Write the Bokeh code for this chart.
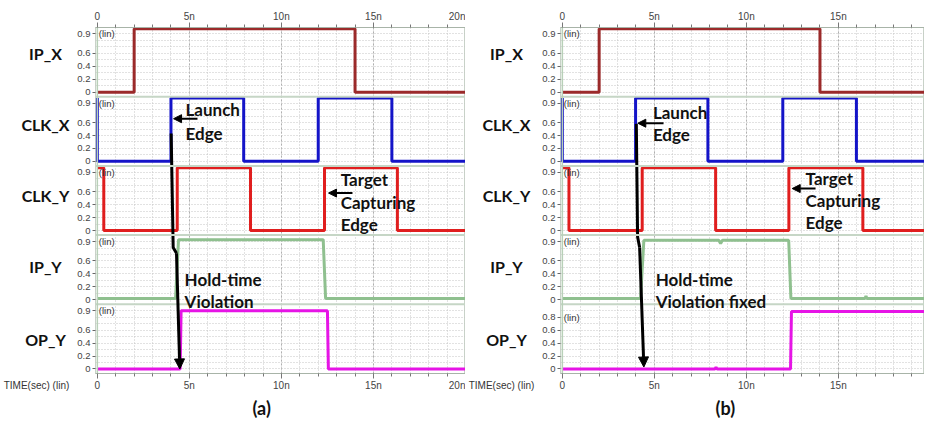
from bokeh.plotting import figure
from bokeh.models import FixedTicker, Label, Span, Arrow, NormalHead, LinearAxis, Range1d, Title
from bokeh.layouts import row
from bokeh.embed import file_html
from bokeh.resources import INLINE

# ---------------- data (time in ns, levels in V) ----------------
CHANNELS = ["IP_X", "CLK_X", "CLK_Y", "IP_Y", "OP_Y"]
COLORS = ["#9b2a2a", "#1414c8", "#e01e1e", "#8fc08f", "#e614e6"]

X_TICKS = [0, 5, 10, 15, 20]
X_TICK_LABELS = ["0", "5n", "10n", "15n", "20n"]
X_MINOR = list(range(0, 21))

Y_TICKS = [0, 0.2, 0.4, 0.6, 0.9]
Y_TICK_LABELS = ["0", "0.2", "0.4", "0.6", "0.9"]
Y_TICKS_ALT = [0, 0.2, 0.4, 0.6, 0.8]
Y_TICK_LABELS_ALT = ["0", "0.2", "0.4", "0.6", "0.8"]
Y_MINOR = [0.1, 0.3, 0.5, 0.7, 0.8]
Y_MINOR_ALT = [0.1, 0.3, 0.5, 0.7, 0.9]

# panel (a) waveforms
ipx_t_a = [0, 2.0, 2.0, 14.0, 14.0, 20]
ipx_v_a = [0, 0, 0.98, 0.98, 0, 0]
clkx_t_a = [0, 0, 4.0, 4.0, 7.95, 7.95, 12.0, 12.0, 16.0, 16.0, 20]
clkx_v_a = [0.98, 0, 0, 0.98, 0.98, 0, 0, 0.98, 0.98, 0, 0]
clky_t_a = [0, 0.35, 0.35, 4.34, 4.34, 8.32, 8.32, 12.34, 12.34, 16.3, 16.3, 20]
clky_v_a = [0.97, 0.97, 0, 0, 0.97, 0.97, 0, 0, 0.97, 0.97, 0, 0]
ipy_t_a = [0, 4.25, 4.41, 12.27, 12.4, 20]
ipy_v_a = [0.02, 0.02, 0.93, 0.93, 0.02, 0.02]
opy_t_a = [0, 4.5, 4.55, 12.5, 12.55, 20]
opy_v_a = [0, 0, 0.9, 0.9, 0, 0]

# panel (b) waveforms
ipx_t_b = [0, 2.0, 2.0, 14.0, 14.0, 20]
ipx_v_b = [0, 0, 0.98, 0.98, 0, 0]
clkx_t_b = [0, 0, 3.98, 3.98, 7.91, 7.91, 11.98, 11.98, 15.98, 15.98, 20]
clkx_v_b = [0.98, 0, 0, 0.98, 0.98, 0, 0, 0.98, 0.98, 0, 0]
clky_t_b = [0, 0.36, 0.36, 4.34, 4.34, 8.33, 8.33, 12.31, 12.31, 16.33, 16.33, 20]
clky_v_b = [0.97, 0.97, 0, 0, 0.97, 0.97, 0, 0, 0.97, 0.97, 0, 0]
ipy_t_b = [0, 4.25, 4.43, 8.5, 8.6, 8.7, 12.3, 12.42, 16.45, 16.5, 16.55, 20]
ipy_v_b = [0.02, 0.02, 0.92, 0.92, 0.87, 0.92, 0.92, 0.02, 0.02, 0.06, 0.02, 0.02]
opy_t_b = [0, 8.3, 8.35, 8.4, 12.4, 12.45, 20]
opy_v_b = [0, 0, 0.03, 0, 0, 0.89, 0.89]

# annotation positions: (channel, time ns, channel-relative level)
path_a = [(1, 4.01, 0.43), (3, 4.12, 0.81), (3, 4.30, 0.72), (4, 4.48, 0.0)]
path_b = [(1, 4.02, 0.58), (3, 4.09, 0.97), (3, 4.20, 0.81), (4, 4.43, 0.03)]
small_arrows_a = [((1, 5.44, 0.66), (1, 4.14, 0.66)), ((2, 13.86, 0.58), (2, 12.56, 0.58))]
small_arrows_b = [((1, 5.50, 0.59), (1, 4.10, 0.59)), ((2, 13.76, 0.65), (2, 12.49, 0.65))]
notes_a = [("Launch", 1, 4.79, 0.80), ("Edge", 1, 4.79, 0.43),
           ("Target", 2, 13.22, 0.79), ("Capturing", 2, 13.22, 0.43), ("Edge", 2, 13.22, 0.10),
           ("Hold-time", 3, 4.74, 0.31), ("Violation", 3, 4.74, -0.03)]
notes_b = [("Launch", 1, 4.92, 0.76), ("Edge", 1, 4.92, 0.42),
           ("Target", 2, 13.22, 0.81), ("Capturing", 2, 13.22, 0.46), ("Edge", 2, 13.22, 0.12),
           ("Hold-time", 3, 5.07, 0.31), ("Violation fixed", 3, 5.07, -0.03)]
NAME_LEVELS = [0.60, 0.57, 0.54, 0.51, 0.46]

# ---------------- layout constants ----------------
P = 1.07   # height of one channel strip (V units)
Z = 0.07   # position of 0 V inside a strip
FONT_BOLD = "Lato"
TICK_FONT = "Liberation Sans"
H = 420
TOP, FRAME_H = 27, 346
BOTTOM = H - TOP - FRAME_H
NAME_W = 72
YAX_W = 23


def ych(c, v):
    return (4 - c) * P + Z + v


def names_fig(name_x):
    q = figure(output_backend="svg", toolbar_location=None,
               frame_width=NAME_W, frame_height=FRAME_H,
               min_border_left=0, min_border_right=0,
               min_border_top=TOP, min_border_bottom=BOTTOM,
               x_range=Range1d(0, NAME_W), y_range=Range1d(0, 5 * P))
    q.yaxis.visible = False
    q.grid.visible = False
    q.outline_line_color = None
    xa = q.xaxis[0]
    xa.ticker = FixedTicker(ticks=[])
    xa.axis_line_color = None
    xa.major_tick_line_color = None
    xa.minor_tick_line_color = None
    xa.axis_label = "TIME(sec) (lin)"
    xa.axis_label_standoff = 6
    xa.axis_label_text_font = TICK_FONT
    xa.axis_label_text_font_style = "normal"
    xa.axis_label_text_font_size = "10px"
    xa.axis_label_text_color = "#333333"
    for c in range(5):
        q.add_layout(Label(x=name_x, y=ych(c, NAME_LEVELS[c]), text=CHANNELS[c],
                           text_font=FONT_BOLD, text_font_style="bold", text_font_size="16px",
                           text_align="center", text_baseline="middle", text_color="#111111"))
    return q


def build(waves, ytick_sets, path, small_arrows, notes, caption, cap_off, x_end, frame_w):
    p = figure(output_backend="svg", toolbar_location=None,
               frame_width=frame_w, frame_height=FRAME_H,
               min_border_left=YAX_W, min_border_right=0,
               min_border_top=TOP, min_border_bottom=BOTTOM,
               x_range=Range1d(-0.1, x_end), y_range=Range1d(0, 5 * P),
               background_fill_color="white", border_fill_color="white")
    p.outline_line_color = "#c8d2c8"

    # x axes
    xt = FixedTicker(ticks=X_TICKS, minor_ticks=X_MINOR)
    xover = {float(t): s for t, s in zip(X_TICKS, X_TICK_LABELS)}
    bottom = p.below[0]
    top = LinearAxis()
    p.add_layout(top, "above")
    for ax in (bottom, top):
        ax.ticker = xt
        ax.major_label_overrides = xover
        ax.axis_line_color = "#a8b4a8"
        ax.major_tick_line_color = "#777777"
        ax.minor_tick_line_color = "#777777"
        ax.major_tick_in = 0
        ax.major_tick_out = 5
        ax.minor_tick_in = 0
        ax.minor_tick_out = 3
        ax.major_label_standoff = 1
        ax.major_label_text_font = TICK_FONT
        ax.major_label_text_font_size = "10px"
        ax.major_label_text_color = "#444444"

    # y axis: stacked channels
    yt, ym, yover = [], [], {}
    for c in range(5):
        ticks, labels, minors = ytick_sets[c]
        for t, s in zip(ticks, labels):
            k = round(ych(c, t), 6)
            yt.append(k)
            yover[k] = s
        for m in minors:
            ym.append(round(ych(c, m), 6))
    ya = p.yaxis[0]
    ya.ticker = FixedTicker(ticks=yt, minor_ticks=ym)
    ya.major_label_overrides = yover
    ya.axis_line_color = None
    ya.minor_tick_line_color = None
    ya.major_tick_line_color = "#666666"
    ya.major_tick_in = 0
    ya.major_tick_out = 3
    ya.major_label_standoff = 1
    ya.major_label_text_font = TICK_FONT
    ya.major_label_text_font_size = "9.5px"
    ya.major_label_text_color = "#444444"

    # grids
    p.xgrid.grid_line_color = "#b0b0b0"
    p.xgrid.grid_line_dash = "2 2"
    p.xgrid.minor_grid_line_color = "#c4c4c4"
    p.xgrid.minor_grid_line_dash = "1 2"
    p.ygrid.grid_line_color = "#c4c4c4"
    p.ygrid.grid_line_dash = "1 2"
    p.ygrid.minor_grid_line_color = "#c4c4c4"
    p.ygrid.minor_grid_line_dash = "1 2"

    # strip separators and zero-time line
    for c in range(1, 5):
        p.add_layout(Span(location=(5 - c) * P, dimension="width",
                          line_color="#c6d6c6", line_width=2))
    p.add_layout(Span(location=0, dimension="height", line_color="#b8d0b8", line_width=1.5))

    # waveforms
    for c, (t, v) in enumerate(waves):
        p.line(t, [ych(c, x) for x in v], line_color=COLORS[c], line_width=3)

    # (lin) tags
    for c in range(5):
        top_tick = ytick_sets[c][0][-1]
        p.add_layout(Label(x=0.08, y=ych(c, top_tick), text="(lin)",
                           text_font=TICK_FONT, text_font_size="9.5px",
                           text_baseline="middle", text_color="#333333"))

    # main timing arrow
    xs = [pt[1] for pt in path]
    ys = [ych(pt[0], pt[2]) for pt in path]
    p.line(xs[:-1], ys[:-1], line_color="black", line_width=3)
    p.add_layout(Arrow(end=NormalHead(size=10, fill_color="black", line_color="black"),
                       x_start=xs[-2], y_start=ys[-2], x_end=xs[-1], y_end=ys[-1],
                       line_color="black", line_width=3))

    for (s, e) in small_arrows:
        p.add_layout(Arrow(end=NormalHead(size=8, fill_color="black", line_color="black"),
                           x_start=s[1], y_start=ych(s[0], s[2]),
                           x_end=e[1], y_end=ych(e[0], e[2]),
                           line_color="black", line_width=2))

    for (txt, c, t, v) in notes:
        p.add_layout(Label(x=t, y=ych(c, v), text=txt, text_font=FONT_BOLD,
                           text_font_style="bold", text_font_size="17px",
                           text_align="left", text_baseline="middle", text_color="#111111"))

    p.add_layout(Title(text=caption, align="left", offset=cap_off, standoff=3,
                       text_font=FONT_BOLD, text_font_style="bold", text_font_size="18px",
                       text_color="#111111"),
                 "below")
    return p


std = (Y_TICKS, Y_TICK_LABELS, Y_MINOR)
alt = (Y_TICKS_ALT, Y_TICK_LABELS_ALT, Y_MINOR_ALT)

waves_a = [(ipx_t_a, ipx_v_a), (clkx_t_a, clkx_v_a), (clky_t_a, clky_v_a),
           (ipy_t_a, ipy_v_a), (opy_t_a, opy_v_a)]
waves_b = [(ipx_t_b, ipx_v_b), (clkx_t_b, clkx_v_b), (clky_t_b, clky_v_b),
           (ipy_t_b, ipy_v_b), (opy_t_b, opy_v_b)]

na = names_fig(45)
pa = build(waves_a, [std] * 5, path_a, small_arrows_a, notes_a, "(a)", 157, 20.0, 370)
nb = names_fig(41)
pb = build(waves_b, [std] * 4 + [alt], path_b, small_arrows_b, notes_b, "(b)", 155, 19.68, 364)

layout = row(na, pa, nb, pb)
open("out.html", "w").write(file_html(layout, INLINE))
